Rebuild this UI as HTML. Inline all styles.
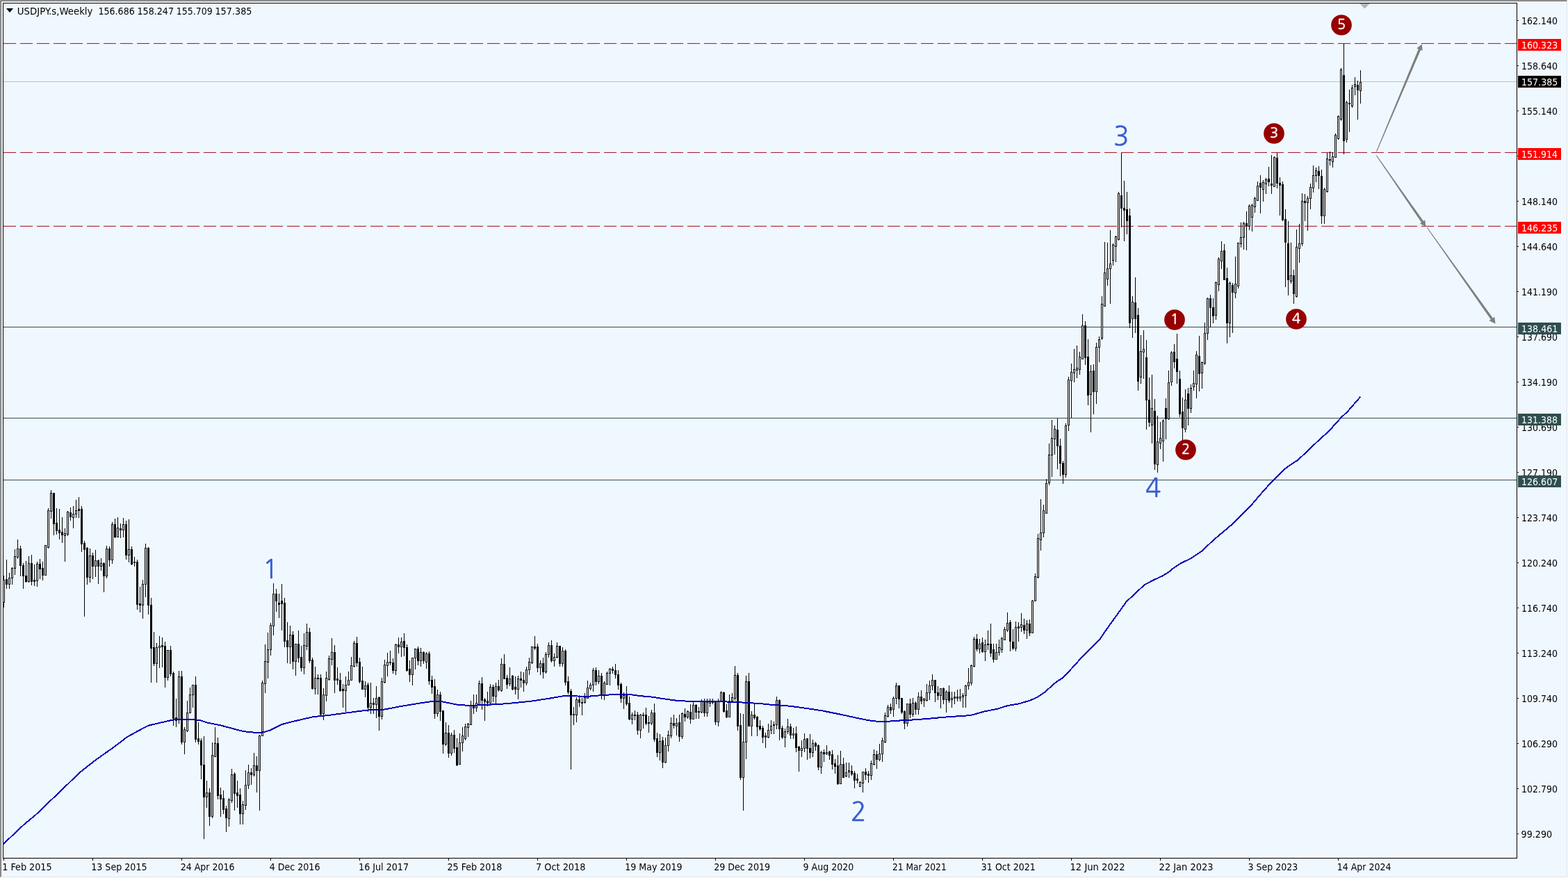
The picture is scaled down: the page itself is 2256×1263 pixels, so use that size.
<!DOCTYPE html>
<html><head><meta charset="utf-8"><title>USDJPY.s,Weekly</title>
<style>html,body{margin:0;padding:0;background:#F0F8FF;width:2256px;height:1263px;overflow:hidden}</style>
</head><body>
<svg width="2256" height="1263" viewBox="0 0 2256 1263" font-family="'DejaVu Sans Condensed','DejaVu Sans','Liberation Sans',sans-serif" font-size="13.5" style="display:block">
<rect width="2256" height="1263" fill="#F0F8FF"/>
<rect x="0" y="0" width="2255" height="1" fill="#A0A0A0"/>
<rect x="0" y="0" width="1" height="1262" fill="#A0A0A0"/>
<rect x="1" y="1" width="2253" height="1" fill="#696969"/>
<rect x="1" y="1" width="1" height="1260" fill="#696969"/>
<rect x="2" y="2" width="2252" height="1" fill="#FFFFFF"/>
<rect x="2" y="2" width="1" height="1259" fill="#FFFFFF"/>
<rect x="1" y="1261" width="2254" height="1" fill="#E3E3E3"/>
<rect x="2254" y="1" width="1" height="1261" fill="#E3E3E3"/>
<rect x="0" y="1262" width="2256" height="1" fill="#FFFFFF"/>
<rect x="2255" y="0" width="1" height="1263" fill="#FFFFFF"/>
<g shape-rendering="crispEdges">
<rect x="5" y="63" width="2177" height="1" fill="#F6EAF2"/><line x1="5" y1="63.5" x2="2182" y2="63.5" stroke="#FADAE4" stroke-width="1" stroke-dasharray="18 6"/><line x1="5" y1="62.5" x2="2182" y2="62.5" stroke="#A82232" stroke-width="1" stroke-dasharray="18 6"/><rect x="5" y="218" width="2177" height="1" fill="#F6EAF2"/><line x1="5" y1="218.5" x2="2182" y2="218.5" stroke="#FADAE4" stroke-width="1" stroke-dasharray="18 6"/><line x1="5" y1="219.5" x2="2182" y2="219.5" stroke="#A82232" stroke-width="1" stroke-dasharray="18 6"/><rect x="5" y="324" width="2177" height="1" fill="#F6EAF2"/><line x1="5" y1="324.5" x2="2182" y2="324.5" stroke="#FADAE4" stroke-width="1" stroke-dasharray="18 6"/><line x1="5" y1="325.5" x2="2182" y2="325.5" stroke="#A82232" stroke-width="1" stroke-dasharray="18 6"/><rect x="5" y="470" width="2177" height="1" fill="#2F4F4F"/><rect x="5" y="601" width="2177" height="1" fill="#2F4F4F"/><rect x="5" y="690" width="2177" height="1" fill="#2F4F4F"/><rect x="5" y="117" width="2177" height="1" fill="#B8C0C8"/>
</g>
<g shape-rendering="crispEdges"><path d="M5 828h1v46h-1zM4 834h3v33h-3zM9 805h1v42h-1zM8 833h3v8h-3zM13 824h1v23h-1zM12 831h3v10h-3zM17 816h1v25h-1zM16 817h3v15h-3zM21 790h1v37h-1zM20 800h3v18h-3zM25 776h1v28h-1zM24 789h3v13h-3zM29 785h1v44h-1zM28 789h3v25h-3zM33 810h1v37h-1zM32 813h3v16h-3zM37 807h1v31h-1zM36 828h3v9h-3zM41 800h1v38h-1zM40 810h3v27h-3zM45 798h1v44h-1zM44 810h3v27h-3zM49 812h1v31h-1zM48 834h3v3h-3zM53 808h1v36h-1zM52 811h3v25h-3zM57 804h1v29h-1zM56 811h3v8h-3zM61 808h1v27h-1zM60 817h3v11h-3zM65 784h1v44h-1zM64 784h3v44h-3zM69 731h1v58h-1zM68 734h3v54h-3zM73 705h1v41h-1zM72 709h3v27h-3zM77 709h1v61h-1zM76 709h3v45h-3zM81 731h1v38h-1zM80 752h3v12h-3zM85 732h1v44h-1zM84 762h3v5h-3zM89 744h1v37h-1zM88 765h3v5h-3zM93 760h1v48h-1zM92 767h3v4h-3zM97 735h1v36h-1zM96 736h3v33h-3zM101 730h1v19h-1zM100 737h3v7h-3zM105 728h1v32h-1zM104 739h3v6h-3zM109 719h1v26h-1zM108 734h3v6h-3zM113 715h1v30h-1zM112 732h3v3h-3zM117 728h1v66h-1zM116 732h3v51h-3zM121 778h1v109h-1zM120 781h3v10h-3zM125 787h1v54h-1zM124 788h3v43h-3zM129 789h1v49h-1zM128 799h3v32h-3zM133 795h1v38h-1zM132 799h3v16h-3zM137 791h1v39h-1zM136 806h3v9h-3zM141 805h1v35h-1zM140 806h3v9h-3zM145 803h1v18h-1zM144 810h3v5h-3zM149 809h1v43h-1zM148 810h3v19h-3zM153 785h1v47h-1zM152 789h3v40h-3zM157 786h1v29h-1zM156 789h3v17h-3zM161 751h1v60h-1zM160 754h3v52h-3zM165 746h1v28h-1zM164 754h3v19h-3zM169 744h1v29h-1zM168 759h3v14h-3zM173 753h1v21h-1zM172 760h3v3h-3zM177 745h1v28h-1zM176 754h3v9h-3zM181 749h1v56h-1zM180 754h3v45h-3zM185 747h1v62h-1zM184 790h3v9h-3zM189 786h1v27h-1zM188 790h3v22h-3zM193 801h1v14h-1zM192 808h3v2h-3zM197 805h1v72h-1zM196 808h3v62h-3zM201 844h1v37h-1zM200 868h3v3h-3zM205 834h1v56h-1zM204 840h3v31h-3zM209 782h1v77h-1zM208 788h3v53h-3zM213 787h1v97h-1zM212 788h3v83h-3zM217 860h1v122h-1zM216 870h3v63h-3zM221 909h1v49h-1zM220 931h3v24h-3zM225 925h1v57h-1zM224 931h3v24h-3zM229 915h1v46h-1zM228 929h3v3h-3zM233 917h1v43h-1zM232 928h3v3h-3zM237 923h1v66h-1zM236 929h3v46h-3zM241 935h1v44h-1zM240 935h3v40h-3zM245 929h1v44h-1zM244 935h3v35h-3zM249 966h1v78h-1zM248 968h3v66h-3zM253 1005h1v41h-1zM252 1032h3v5h-3zM257 965h1v76h-1zM256 973h3v63h-3zM261 965h1v106h-1zM260 973h3v95h-3zM265 1046h1v39h-1zM264 1049h3v19h-3zM269 1008h1v45h-1zM268 1025h3v27h-3zM273 989h1v37h-1zM272 999h3v27h-3zM277 985h1v33h-1zM276 985h3v15h-3zM281 973h1v95h-1zM280 985h3v79h-3zM285 1039h1v32h-1zM284 1062h3v5h-3zM289 1062h1v59h-1zM288 1065h3v36h-3zM293 1059h1v148h-1zM292 1100h3v47h-3zM297 1123h1v39h-1zM296 1140h3v7h-3zM301 1134h1v54h-1zM300 1140h3v35h-3zM305 1068h1v109h-1zM304 1086h3v89h-3zM309 1046h1v43h-1zM308 1069h3v20h-3zM313 1061h1v89h-1zM312 1069h3v76h-3zM317 1133h1v42h-1zM316 1143h3v7h-3zM321 1137h1v34h-1zM320 1148h3v17h-3zM325 1159h1v38h-1zM324 1163h3v14h-3zM329 1148h1v41h-1zM328 1150h3v28h-3zM333 1106h1v49h-1zM332 1114h3v38h-3zM337 1111h1v55h-1zM336 1113h3v29h-3zM341 1123h1v39h-1zM340 1140h3v5h-3zM345 1134h1v52h-1zM344 1143h3v28h-3zM349 1152h1v34h-1zM348 1157h3v14h-3zM353 1108h1v57h-1zM352 1129h3v30h-3zM357 1100h1v35h-1zM356 1111h3v19h-3zM361 1105h1v24h-1zM360 1111h3v4h-3zM365 1083h1v34h-1zM364 1101h3v14h-3zM369 1088h1v52h-1zM368 1101h3v8h-3zM373 1057h1v109h-1zM372 1058h3v51h-3zM377 979h1v80h-1zM376 982h3v77h-3zM381 927h1v70h-1zM380 951h3v33h-3zM385 910h1v66h-1zM384 934h3v19h-3zM389 896h1v47h-1zM388 899h3v36h-3zM393 839h1v75h-1zM392 854h3v47h-3zM397 847h1v33h-1zM396 854h3v11h-3zM401 854h1v35h-1zM400 867h3v3h-3zM405 840h1v67h-1zM404 864h3v5h-3zM409 860h1v71h-1zM408 867h3v56h-3zM413 895h1v59h-1zM412 921h3v10h-3zM417 900h1v55h-1zM416 913h3v18h-3zM421 908h1v55h-1zM420 913h3v39h-3zM425 926h1v46h-1zM424 926h3v26h-3zM429 907h1v46h-1zM428 926h3v21h-3zM433 929h1v37h-1zM432 945h3v16h-3zM437 911h1v59h-1zM436 928h3v33h-3zM441 897h1v38h-1zM440 909h3v21h-3zM445 903h1v51h-1zM444 909h3v42h-3zM449 946h1v46h-1zM448 949h3v42h-3zM453 959h1v40h-1zM452 975h3v16h-3zM457 970h1v29h-1zM456 975h3v2h-3zM461 970h1v59h-1zM460 975h3v53h-3zM465 990h1v46h-1zM464 999h3v28h-3zM469 966h1v43h-1zM468 975h3v26h-3zM473 943h1v36h-1zM472 947h3v31h-3zM477 918h1v39h-1zM476 938h3v11h-3zM481 928h1v69h-1zM480 938h3v41h-3zM485 960h1v25h-1zM484 976h3v3h-3zM489 968h1v27h-1zM488 978h3v16h-3zM493 984h1v34h-1zM492 991h3v3h-3zM497 973h1v51h-1zM496 985h3v9h-3zM501 966h1v20h-1zM500 978h3v8h-3zM505 945h1v34h-1zM504 957h3v22h-3zM509 922h1v38h-1zM508 925h3v34h-3zM513 916h1v43h-1zM512 925h3v29h-3zM517 946h1v37h-1zM516 952h3v29h-3zM521 959h1v33h-1zM520 979h3v13h-3zM525 980h1v23h-1zM524 986h3v6h-3zM529 982h1v42h-1zM528 985h3v33h-3zM533 982h1v45h-1zM532 1011h3v7h-3zM537 1004h1v23h-1zM536 1011h3v3h-3zM541 987h1v46h-1zM540 1004h3v10h-3zM545 1002h1v49h-1zM544 1003h3v28h-3zM549 975h1v60h-1zM548 980h3v51h-3zM553 949h1v34h-1zM552 956h3v26h-3zM557 939h1v34h-1zM556 952h3v6h-3zM561 936h1v21h-1zM560 952h3v2h-3zM565 947h1v22h-1zM564 953h3v12h-3zM569 926h1v45h-1zM568 927h3v38h-3zM573 917h1v23h-1zM572 927h3v4h-3zM577 917h1v28h-1zM576 923h3v8h-3zM581 911h1v33h-1zM580 922h3v10h-3zM585 927h1v39h-1zM584 931h3v34h-3zM589 950h1v31h-1zM588 962h3v9h-3zM593 946h1v40h-1zM592 946h3v25h-3zM597 933h1v30h-1zM596 933h3v14h-3zM601 930h1v27h-1zM600 933h3v18h-3zM605 932h1v27h-1zM604 938h3v13h-3zM609 937h1v18h-1zM608 938h3v13h-3zM613 938h1v24h-1zM612 940h3v13h-3zM617 937h1v48h-1zM616 940h3v40h-3zM621 972h1v26h-1zM620 978h3v11h-3zM625 977h1v57h-1zM624 987h3v40h-3zM629 992h1v39h-1zM628 999h3v28h-3zM633 995h1v42h-1zM632 999h3v25h-3zM637 1022h1v62h-1zM636 1022h3v49h-3zM641 1039h1v34h-1zM640 1054h3v17h-3zM645 1043h1v47h-1zM644 1054h3v30h-3zM649 1054h1v33h-1zM648 1057h3v27h-3zM653 1050h1v33h-1zM652 1057h3v20h-3zM657 1062h1v40h-1zM656 1075h3v26h-3zM661 1055h1v45h-1zM660 1068h3v32h-3zM665 1046h1v35h-1zM664 1058h3v11h-3zM669 1041h1v24h-1zM668 1045h3v18h-3zM673 1040h1v20h-1zM672 1041h3v6h-3zM677 1008h1v35h-1zM676 1015h3v28h-3zM681 999h1v28h-1zM680 1015h3v4h-3zM685 999h1v25h-1zM684 1011h3v8h-3zM689 979h1v36h-1zM688 983h3v31h-3zM693 974h1v47h-1zM692 983h3v25h-3zM697 1004h1v33h-1zM696 1006h3v4h-3zM701 995h1v21h-1zM700 1008h3v4h-3zM705 984h1v29h-1zM704 988h3v24h-3zM709 985h1v25h-1zM708 988h3v14h-3zM713 982h1v31h-1zM712 987h3v15h-3zM717 978h1v17h-1zM716 987h3v6h-3zM721 947h1v48h-1zM720 955h3v39h-3zM725 941h1v36h-1zM724 955h3v22h-3zM729 971h1v20h-1zM728 975h3v10h-3zM733 960h1v27h-1zM732 976h3v8h-3zM737 971h1v22h-1zM736 972h3v20h-3zM741 973h1v26h-1zM740 988h3v4h-3zM745 972h1v34h-1zM744 976h3v16h-3zM749 966h1v23h-1zM748 976h3v3h-3zM753 967h1v28h-1zM752 978h3v5h-3zM757 959h1v27h-1zM756 963h3v20h-3zM761 946h1v25h-1zM760 952h3v12h-3zM765 930h1v25h-1zM764 930h3v24h-3zM769 915h1v20h-1zM768 930h3v3h-3zM773 926h1v41h-1zM772 930h3v31h-3zM777 950h1v21h-1zM776 954h3v7h-3zM781 946h1v30h-1zM780 954h3v13h-3zM785 938h1v31h-1zM784 941h3v26h-3zM789 924h1v22h-1zM788 928h3v14h-3zM793 921h1v32h-1zM792 928h3v23h-3zM797 940h1v19h-1zM796 945h3v6h-3zM801 924h1v23h-1zM800 929h3v17h-3zM805 929h1v30h-1zM804 929h3v26h-3zM809 931h1v28h-1zM808 936h3v19h-3zM813 934h1v52h-1zM812 936h3v46h-3zM817 973h1v26h-1zM816 980h3v16h-3zM821 991h1v116h-1zM820 994h3v35h-3zM825 1017h1v26h-1zM824 1027h3v2h-3zM829 1003h1v36h-1zM828 1006h3v23h-3zM833 1000h1v17h-1zM832 1006h3v5h-3zM837 1004h1v25h-1zM836 1010h3v2h-3zM841 997h1v15h-1zM840 1003h3v8h-3zM845 979h1v26h-1zM844 989h3v16h-3zM849 982h1v11h-1zM848 985h3v6h-3zM853 961h1v34h-1zM852 964h3v22h-3zM857 960h1v26h-1zM856 964h3v17h-3zM861 964h1v20h-1zM860 972h3v9h-3zM865 968h1v38h-1zM864 972h3v29h-3zM869 980h1v27h-1zM868 982h3v19h-3zM873 966h1v19h-1zM872 968h3v17h-3zM877 961h1v25h-1zM876 962h3v7h-3zM881 959h1v10h-1zM880 962h3v3h-3zM885 955h1v21h-1zM884 964h3v7h-3zM889 964h1v28h-1zM888 970h3v16h-3zM893 982h1v29h-1zM892 984h3v21h-3zM897 996h1v24h-1zM896 1000h3v5h-3zM901 987h1v28h-1zM900 999h3v14h-3zM905 1002h1v34h-1zM904 1011h3v24h-3zM909 1025h1v17h-1zM908 1028h3v7h-3zM913 1022h1v14h-1zM912 1028h3v2h-3zM917 1024h1v33h-1zM916 1028h3v23h-3zM921 1027h1v35h-1zM920 1028h3v23h-3zM925 1025h1v23h-1zM924 1028h3v2h-3zM929 1018h1v25h-1zM928 1028h3v13h-3zM933 1030h1v24h-1zM932 1039h3v2h-3zM937 1021h1v22h-1zM936 1025h3v16h-3zM941 1012h1v55h-1zM940 1025h3v39h-3zM945 1054h1v35h-1zM944 1062h3v21h-3zM949 1056h1v38h-1zM948 1066h3v17h-3zM953 1060h1v45h-1zM952 1065h3v32h-3zM957 1061h1v37h-1zM956 1072h3v25h-3zM961 1051h1v30h-1zM960 1057h3v16h-3zM965 1032h1v30h-1zM964 1040h3v19h-3zM969 1028h1v20h-1zM968 1040h3v4h-3zM973 1033h1v25h-1zM972 1040h3v5h-3zM977 1028h1v39h-1zM976 1039h3v21h-3zM981 1025h1v38h-1zM980 1026h3v34h-3zM985 1019h1v19h-1zM984 1027h3v5h-3zM989 1022h1v12h-1zM988 1023h3v9h-3zM993 1013h1v28h-1zM992 1024h3v11h-3zM997 1010h1v25h-1zM996 1014h3v21h-3zM1001 1013h1v21h-1zM1000 1014h3v11h-3zM1005 1017h1v17h-1zM1004 1023h3v2h-3zM1009 1006h1v20h-1zM1008 1009h3v16h-3zM1013 1005h1v26h-1zM1012 1009h3v17h-3zM1017 1005h1v26h-1zM1016 1010h3v16h-3zM1021 1005h1v12h-1zM1020 1009h3v3h-3zM1025 1005h1v8h-1zM1024 1009h3v2h-3zM1029 1009h1v34h-1zM1028 1010h3v29h-3zM1033 1005h1v40h-1zM1032 1009h3v30h-3zM1037 994h1v16h-1zM1036 996h3v14h-3zM1041 995h1v30h-1zM1040 996h3v28h-3zM1045 1013h1v20h-1zM1044 1022h3v10h-3zM1049 999h1v33h-1zM1048 1008h3v24h-3zM1053 997h1v12h-1zM1052 1003h3v6h-3zM1057 958h1v50h-1zM1056 971h3v34h-3zM1061 968h1v83h-1zM1060 971h3v74h-3zM1065 1026h1v96h-1zM1064 1043h3v76h-3zM1069 1027h1v139h-1zM1068 1067h3v52h-3zM1073 972h1v120h-1zM1072 980h3v88h-3zM1077 968h1v77h-1zM1076 980h3v65h-3zM1081 1023h1v36h-1zM1080 1028h3v17h-3zM1085 1012h1v23h-1zM1084 1028h3v5h-3zM1089 1030h1v29h-1zM1088 1031h3v15h-3zM1093 1036h1v15h-1zM1092 1044h3v5h-3zM1097 1044h1v25h-1zM1096 1047h3v14h-3zM1101 1054h1v22h-1zM1100 1058h3v3h-3zM1105 1041h1v21h-1zM1104 1050h3v11h-3zM1109 1036h1v20h-1zM1108 1044h3v7h-3zM1113 1038h1v18h-1zM1112 1042h3v2h-3zM1117 1002h1v47h-1zM1116 1007h3v36h-3zM1121 1006h1v59h-1zM1120 1007h3v42h-3zM1125 1044h1v19h-1zM1124 1047h3v14h-3zM1129 1048h1v27h-1zM1128 1052h3v9h-3zM1133 1034h1v22h-1zM1132 1045h3v8h-3zM1137 1041h1v22h-1zM1136 1045h3v13h-3zM1141 1047h1v16h-1zM1140 1055h3v3h-3zM1145 1045h1v37h-1zM1144 1055h3v21h-3zM1149 1073h1v37h-1zM1148 1074h3v6h-3zM1153 1065h1v24h-1zM1152 1076h3v4h-3zM1157 1055h1v27h-1zM1156 1063h3v14h-3zM1161 1062h1v31h-1zM1160 1062h3v15h-3zM1165 1056h1v35h-1zM1164 1076h3v7h-3zM1169 1064h1v25h-1zM1168 1069h3v14h-3zM1173 1067h1v13h-1zM1172 1069h3v5h-3zM1177 1071h1v37h-1zM1176 1072h3v32h-3zM1181 1080h1v33h-1zM1180 1082h3v22h-3zM1185 1078h1v18h-1zM1184 1082h3v3h-3zM1189 1072h1v14h-1zM1188 1082h3v3h-3zM1193 1080h1v13h-1zM1192 1081h3v6h-3zM1197 1079h1v28h-1zM1196 1085h3v15h-3zM1201 1092h1v21h-1zM1200 1098h3v5h-3zM1205 1086h1v43h-1zM1204 1101h3v27h-3zM1209 1080h1v48h-1zM1208 1099h3v29h-3zM1213 1090h1v29h-1zM1212 1099h3v20h-3zM1217 1097h1v21h-1zM1216 1111h3v6h-3zM1221 1097h1v22h-1zM1220 1108h3v3h-3zM1225 1101h1v15h-1zM1224 1109h3v5h-3zM1229 1109h1v25h-1zM1228 1112h3v11h-3zM1233 1113h1v14h-1zM1232 1120h3v3h-3zM1237 1124h1v8h-1zM1236 1125h3v7h-3zM1241 1110h1v30h-1zM1240 1110h3v17h-3zM1245 1105h1v17h-1zM1244 1110h3v5h-3zM1249 1109h1v17h-1zM1248 1113h3v3h-3zM1253 1094h1v28h-1zM1252 1098h3v18h-3zM1257 1078h1v23h-1zM1256 1085h3v15h-3zM1261 1080h1v26h-1zM1260 1085h3v8h-3zM1265 1070h1v25h-1zM1264 1084h3v9h-3zM1269 1061h1v35h-1zM1268 1065h3v20h-3zM1273 1025h1v44h-1zM1272 1029h3v39h-3zM1277 1014h1v18h-1zM1276 1017h3v14h-3zM1281 1012h1v15h-1zM1280 1017h3v5h-3zM1285 1002h1v29h-1zM1284 1004h3v17h-3zM1289 982h1v31h-1zM1288 986h3v19h-3zM1293 986h1v33h-1zM1292 986h3v20h-3zM1297 1004h1v23h-1zM1296 1004h3v21h-3zM1301 1022h1v27h-1zM1300 1023h3v18h-3zM1305 1012h1v33h-1zM1304 1012h3v29h-3zM1309 1005h1v28h-1zM1308 1012h3v16h-3zM1313 1004h1v27h-1zM1312 1011h3v17h-3zM1317 1009h1v19h-1zM1316 1011h3v10h-3zM1321 996h1v32h-1zM1320 1002h3v19h-3zM1325 993h1v20h-1zM1324 1002h3v7h-3zM1329 1004h1v13h-1zM1328 1005h3v3h-3zM1333 984h1v25h-1zM1332 996h3v12h-3zM1337 979h1v28h-1zM1336 986h3v11h-3zM1341 970h1v23h-1zM1340 978h3v9h-3zM1345 978h1v32h-1zM1344 978h3v19h-3zM1349 987h1v20h-1zM1348 996h3v5h-3zM1353 990h1v29h-1zM1352 990h3v11h-3zM1357 989h1v24h-1zM1356 990h3v17h-3zM1361 993h1v32h-1zM1360 995h3v12h-3zM1365 986h1v25h-1zM1364 995h3v13h-3zM1369 995h1v23h-1zM1368 1004h3v3h-3zM1373 995h1v18h-1zM1372 1002h3v3h-3zM1377 992h1v17h-1zM1376 1002h3v3h-3zM1381 991h1v18h-1zM1380 1002h3v3h-3zM1385 997h1v21h-1zM1384 1000h3v3h-3zM1389 985h1v33h-1zM1388 986h3v15h-3zM1393 961h1v31h-1zM1392 981h3v6h-3zM1397 956h1v30h-1zM1396 957h3v26h-3zM1401 916h1v44h-1zM1400 919h3v40h-3zM1405 912h1v25h-1zM1404 919h3v15h-3zM1409 919h1v21h-1zM1408 926h3v8h-3zM1413 917h1v22h-1zM1412 924h3v14h-3zM1417 920h1v31h-1zM1416 927h3v11h-3zM1421 907h1v28h-1zM1420 926h3v2h-3zM1425 897h1v48h-1zM1424 926h3v14h-3zM1429 926h1v27h-1zM1428 934h3v15h-3zM1433 926h1v23h-1zM1432 938h3v11h-3zM1437 920h1v23h-1zM1436 931h3v8h-3zM1441 916h1v23h-1zM1440 918h3v17h-3zM1445 902h1v19h-1zM1444 905h3v16h-3zM1449 881h1v28h-1zM1448 896h3v11h-3zM1453 892h1v45h-1zM1452 895h3v28h-3zM1457 905h1v30h-1zM1456 923h3v10h-3zM1461 894h1v43h-1zM1460 902h3v31h-3zM1465 895h1v28h-1zM1464 901h3v3h-3zM1469 882h1v27h-1zM1468 898h3v5h-3zM1473 890h1v22h-1zM1472 899h3v8h-3zM1477 892h1v27h-1zM1476 897h3v10h-3zM1481 891h1v24h-1zM1480 897h3v14h-3zM1485 863h1v48h-1zM1484 864h3v47h-3zM1489 825h1v40h-1zM1488 829h3v36h-3zM1493 768h1v64h-1zM1492 774h3v57h-3zM1497 718h1v74h-1zM1496 766h3v11h-3zM1501 726h1v47h-1zM1500 734h3v33h-3zM1505 689h1v50h-1zM1504 695h3v44h-3zM1509 638h1v60h-1zM1508 654h3v41h-3zM1513 604h1v82h-1zM1512 630h3v25h-3zM1517 612h1v42h-1zM1516 617h3v15h-3zM1521 602h1v73h-1zM1520 618h3v24h-3zM1525 631h1v54h-1zM1524 641h3v26h-3zM1529 663h1v33h-1zM1528 666h3v17h-3zM1533 609h1v78h-1zM1532 612h3v71h-3zM1537 542h1v78h-1zM1536 546h3v66h-3zM1541 523h1v78h-1zM1540 535h3v13h-3zM1545 502h1v48h-1zM1544 531h3v6h-3zM1549 497h1v47h-1zM1548 529h3v4h-3zM1553 506h1v33h-1zM1552 513h3v19h-3zM1557 452h1v65h-1zM1556 468h3v49h-3zM1561 462h1v63h-1zM1560 468h3v47h-3zM1565 488h1v95h-1zM1564 513h3v56h-3zM1569 525h1v97h-1zM1568 534h3v34h-3zM1573 524h1v72h-1zM1572 533h3v31h-3zM1577 493h1v88h-1zM1576 499h3v65h-3zM1581 484h1v37h-1zM1580 488h3v12h-3zM1585 426h1v63h-1zM1584 437h3v50h-3zM1589 348h1v93h-1zM1588 392h3v49h-3zM1593 349h1v62h-1zM1592 386h3v16h-3zM1597 331h1v106h-1zM1596 379h3v8h-3zM1601 350h1v32h-1zM1600 352h3v23h-3zM1605 339h1v38h-1zM1604 340h3v15h-3zM1609 276h1v70h-1zM1608 278h3v67h-3zM1613 220h1v107h-1zM1612 281h3v19h-3zM1617 260h1v87h-1zM1616 299h3v4h-3zM1621 276h1v61h-1zM1620 301h3v17h-3zM1625 300h1v172h-1zM1624 310h3v155h-3zM1629 426h1v60h-1zM1628 434h3v25h-3zM1633 399h1v80h-1zM1632 435h3v24h-3zM1637 443h1v119h-1zM1636 453h3v96h-3zM1641 482h1v70h-1zM1640 505h3v38h-3zM1645 475h1v70h-1zM1644 502h3v5h-3zM1649 489h1v129h-1zM1648 514h3v62h-3zM1653 543h1v71h-1zM1652 575h3v33h-3zM1657 539h1v99h-1zM1656 587h3v25h-3zM1661 574h1v102h-1zM1660 591h3v77h-3zM1665 598h1v82h-1zM1664 635h3v34h-3zM1669 607h1v39h-1zM1668 630h3v8h-3zM1673 603h1v61h-1zM1672 605h3v30h-3zM1677 573h1v59h-1zM1676 587h3v16h-3zM1681 533h1v71h-1zM1680 550h3v53h-3zM1685 505h1v50h-1zM1684 507h3v43h-3zM1689 495h1v35h-1zM1688 506h3v15h-3zM1693 480h1v72h-1zM1692 516h3v19h-3zM1697 533h1v67h-1zM1696 545h3v51h-3zM1701 572h1v61h-1zM1700 592h3v24h-3zM1705 560h1v62h-1zM1704 575h3v43h-3zM1709 558h1v54h-1zM1708 566h3v22h-3zM1713 553h1v41h-1zM1712 558h3v30h-3zM1717 533h1v29h-1zM1716 551h3v6h-3zM1721 505h1v68h-1zM1720 510h3v43h-3zM1725 483h1v80h-1zM1724 512h3v26h-3zM1729 520h1v39h-1zM1728 521h3v16h-3zM1733 464h1v61h-1zM1732 479h3v44h-3zM1737 428h1v61h-1zM1736 429h3v51h-3zM1741 424h1v47h-1zM1740 429h3v14h-3zM1745 429h1v36h-1zM1744 442h3v13h-3zM1749 405h1v55h-1zM1748 406h3v48h-3zM1753 370h1v49h-1zM1752 372h3v38h-3zM1757 347h1v40h-1zM1756 361h3v15h-3zM1761 351h1v52h-1zM1760 360h3v43h-3zM1765 385h1v109h-1zM1764 400h3v65h-3zM1769 405h1v80h-1zM1768 407h3v58h-3zM1773 407h1v72h-1zM1772 410h3v11h-3zM1777 369h1v60h-1zM1776 408h3v14h-3zM1781 349h1v66h-1zM1780 349h3v63h-3zM1785 320h1v36h-1zM1784 341h3v10h-3zM1789 319h1v40h-1zM1788 321h3v21h-3zM1793 304h1v56h-1zM1792 321h3v4h-3zM1797 294h1v37h-1zM1796 296h3v30h-3zM1801 293h1v40h-1zM1800 295h3v18h-3zM1805 283h1v23h-1zM1804 285h3v13h-3zM1809 261h1v28h-1zM1808 267h3v22h-3zM1813 252h1v55h-1zM1812 263h3v7h-3zM1817 259h1v31h-1zM1816 262h3v11h-3zM1821 256h1v23h-1zM1820 258h3v7h-3zM1825 240h1v28h-1zM1824 257h3v5h-3zM1829 223h1v56h-1zM1828 264h3v3h-3zM1833 225h1v44h-1zM1832 226h3v43h-3zM1837 220h1v51h-1zM1836 227h3v37h-3zM1841 255h1v55h-1zM1840 263h3v4h-3zM1845 261h1v57h-1zM1844 265h3v52h-3zM1849 301h1v112h-1zM1848 315h3v34h-3zM1853 318h1v107h-1zM1852 350h3v53h-3zM1857 349h1v59h-1zM1856 396h3v9h-3zM1861 388h1v49h-1zM1860 396h3v27h-3zM1865 330h1v98h-1zM1864 355h3v72h-3zM1869 322h1v56h-1zM1868 350h3v8h-3zM1873 278h1v76h-1zM1872 289h3v62h-3zM1877 279h1v39h-1zM1876 289h3v3h-3zM1881 282h1v50h-1zM1880 285h3v7h-3zM1885 264h1v37h-1zM1884 269h3v17h-3zM1889 238h1v39h-1zM1888 252h3v19h-3zM1893 241h1v21h-1zM1892 245h3v8h-3zM1897 239h1v33h-1zM1896 246h3v7h-3zM1901 244h1v78h-1zM1900 253h3v58h-3zM1905 270h1v52h-1zM1904 272h3v39h-3zM1909 220h1v57h-1zM1908 228h3v48h-3zM1913 218h1v20h-1zM1912 229h3v2h-3zM1917 219h1v22h-1zM1916 225h3v8h-3zM1921 192h1v35h-1zM1920 194h3v33h-3zM1925 166h1v35h-1zM1924 167h3v33h-3zM1929 98h1v76h-1zM1928 100h3v72h-3zM1933 63h1v159h-1zM1932 108h3v95h-3zM1937 145h1v60h-1zM1936 147h3v54h-3zM1941 129h1v61h-1zM1940 148h3v2h-3zM1945 122h1v33h-1zM1944 126h3v27h-3zM1949 111h1v26h-1zM1948 121h3v4h-3zM1953 116h1v56h-1zM1952 122h3v8h-3zM1957 101h1v48h-1zM1956 118h3v13h-3z" fill="#000"/><path d="M5 835h1v31h-1zM13 832h1v8h-1zM17 818h1v13h-1zM21 801h1v16h-1zM25 790h1v11h-1zM41 811h1v25h-1zM53 812h1v23h-1zM65 785h1v42h-1zM69 735h1v52h-1zM73 710h1v25h-1zM93 768h1v2h-1zM97 737h1v31h-1zM105 740h1v4h-1zM109 735h1v4h-1zM129 800h1v30h-1zM137 807h1v7h-1zM145 811h1v3h-1zM153 790h1v38h-1zM161 755h1v50h-1zM169 760h1v12h-1zM177 755h1v7h-1zM185 791h1v7h-1zM205 841h1v29h-1zM209 789h1v51h-1zM225 932h1v22h-1zM229 930h1v1h-1zM241 936h1v38h-1zM257 974h1v61h-1zM265 1050h1v17h-1zM269 1026h1v25h-1zM273 1000h1v25h-1zM277 986h1v13h-1zM297 1141h1v5h-1zM305 1087h1v87h-1zM309 1070h1v18h-1zM329 1151h1v26h-1zM333 1115h1v36h-1zM349 1158h1v12h-1zM353 1130h1v28h-1zM357 1112h1v17h-1zM365 1102h1v12h-1zM373 1059h1v49h-1zM377 983h1v75h-1zM381 952h1v31h-1zM385 935h1v17h-1zM389 900h1v34h-1zM393 855h1v45h-1zM417 914h1v16h-1zM425 927h1v24h-1zM437 929h1v31h-1zM441 910h1v19h-1zM453 976h1v14h-1zM465 1000h1v26h-1zM469 976h1v24h-1zM473 948h1v29h-1zM477 939h1v9h-1zM497 986h1v7h-1zM501 979h1v6h-1zM505 958h1v20h-1zM509 926h1v32h-1zM525 987h1v4h-1zM533 1012h1v5h-1zM541 1005h1v8h-1zM549 981h1v49h-1zM553 957h1v24h-1zM557 953h1v4h-1zM569 928h1v36h-1zM577 924h1v6h-1zM593 947h1v23h-1zM597 934h1v12h-1zM605 939h1v11h-1zM613 941h1v11h-1zM629 1000h1v26h-1zM641 1055h1v15h-1zM649 1058h1v25h-1zM661 1069h1v30h-1zM665 1059h1v9h-1zM669 1046h1v16h-1zM673 1042h1v4h-1zM677 1016h1v26h-1zM685 1012h1v6h-1zM689 984h1v29h-1zM705 989h1v22h-1zM713 988h1v13h-1zM721 956h1v37h-1zM733 977h1v6h-1zM745 977h1v14h-1zM757 964h1v18h-1zM761 953h1v10h-1zM765 931h1v22h-1zM777 955h1v5h-1zM785 942h1v24h-1zM789 929h1v12h-1zM797 946h1v4h-1zM801 930h1v15h-1zM809 937h1v17h-1zM829 1007h1v21h-1zM841 1004h1v6h-1zM845 990h1v14h-1zM849 986h1v4h-1zM853 965h1v20h-1zM861 973h1v7h-1zM869 983h1v17h-1zM873 969h1v15h-1zM877 963h1v5h-1zM897 1001h1v3h-1zM909 1029h1v5h-1zM921 1029h1v21h-1zM937 1026h1v14h-1zM949 1067h1v15h-1zM957 1073h1v23h-1zM961 1058h1v14h-1zM965 1041h1v17h-1zM973 1041h1v3h-1zM981 1027h1v32h-1zM989 1024h1v7h-1zM997 1015h1v19h-1zM1009 1010h1v14h-1zM1017 1011h1v14h-1zM1021 1010h1v1h-1zM1033 1010h1v28h-1zM1037 997h1v12h-1zM1049 1009h1v22h-1zM1053 1004h1v4h-1zM1057 972h1v32h-1zM1069 1068h1v50h-1zM1073 981h1v86h-1zM1081 1029h1v15h-1zM1105 1051h1v9h-1zM1109 1045h1v5h-1zM1117 1008h1v34h-1zM1129 1053h1v7h-1zM1133 1046h1v6h-1zM1141 1056h1v1h-1zM1153 1077h1v2h-1zM1157 1064h1v12h-1zM1169 1070h1v12h-1zM1181 1083h1v20h-1zM1189 1083h1v1h-1zM1209 1100h1v27h-1zM1217 1112h1v4h-1zM1221 1109h1v1h-1zM1237 1126h1v5h-1zM1241 1111h1v15h-1zM1253 1099h1v16h-1zM1257 1086h1v13h-1zM1265 1085h1v7h-1zM1269 1066h1v18h-1zM1273 1030h1v37h-1zM1277 1018h1v12h-1zM1285 1005h1v15h-1zM1289 987h1v17h-1zM1305 1013h1v27h-1zM1313 1012h1v15h-1zM1321 1003h1v17h-1zM1329 1006h1v1h-1zM1333 997h1v10h-1zM1337 987h1v9h-1zM1341 979h1v7h-1zM1353 991h1v9h-1zM1361 996h1v10h-1zM1369 1005h1v1h-1zM1381 1003h1v1h-1zM1385 1001h1v1h-1zM1389 987h1v13h-1zM1393 982h1v4h-1zM1397 958h1v24h-1zM1401 920h1v38h-1zM1409 927h1v6h-1zM1417 928h1v9h-1zM1433 939h1v9h-1zM1437 932h1v6h-1zM1441 919h1v15h-1zM1445 906h1v14h-1zM1449 897h1v9h-1zM1461 903h1v29h-1zM1469 899h1v3h-1zM1477 898h1v8h-1zM1485 865h1v45h-1zM1489 830h1v34h-1zM1493 775h1v55h-1zM1497 767h1v9h-1zM1501 735h1v31h-1zM1505 696h1v42h-1zM1509 655h1v39h-1zM1513 631h1v23h-1zM1517 618h1v13h-1zM1533 613h1v69h-1zM1537 547h1v64h-1zM1541 536h1v11h-1zM1545 532h1v4h-1zM1549 530h1v2h-1zM1553 514h1v17h-1zM1557 469h1v47h-1zM1569 535h1v32h-1zM1577 500h1v63h-1zM1581 489h1v10h-1zM1585 438h1v48h-1zM1589 393h1v47h-1zM1593 387h1v14h-1zM1597 380h1v6h-1zM1601 353h1v21h-1zM1605 341h1v13h-1zM1609 279h1v65h-1zM1629 435h1v23h-1zM1641 506h1v36h-1zM1645 503h1v3h-1zM1657 588h1v23h-1zM1665 636h1v32h-1zM1669 631h1v6h-1zM1673 606h1v28h-1zM1681 551h1v51h-1zM1685 508h1v41h-1zM1705 576h1v41h-1zM1713 559h1v28h-1zM1717 552h1v4h-1zM1721 511h1v41h-1zM1729 522h1v14h-1zM1733 480h1v42h-1zM1737 430h1v49h-1zM1749 407h1v46h-1zM1753 373h1v36h-1zM1757 362h1v13h-1zM1769 408h1v56h-1zM1777 409h1v12h-1zM1781 350h1v61h-1zM1785 342h1v8h-1zM1789 322h1v19h-1zM1797 297h1v28h-1zM1801 296h1v16h-1zM1805 286h1v11h-1zM1809 268h1v20h-1zM1817 263h1v9h-1zM1821 259h1v5h-1zM1833 227h1v41h-1zM1857 397h1v7h-1zM1865 356h1v70h-1zM1869 351h1v6h-1zM1873 290h1v60h-1zM1881 286h1v5h-1zM1885 270h1v15h-1zM1889 253h1v17h-1zM1893 246h1v6h-1zM1905 273h1v37h-1zM1909 229h1v46h-1zM1917 226h1v6h-1zM1921 195h1v31h-1zM1925 168h1v31h-1zM1929 101h1v70h-1zM1937 148h1v52h-1zM1945 127h1v25h-1zM1949 122h1v2h-1zM1957 119h1v11h-1z" fill="#fff"/></g>
<polyline points="4.7,1214.2 34.4,1186.2 51.2,1172.3 70.7,1153.6 95.0,1130.4 114.5,1111.4 137.8,1093.1 162.0,1076.0 182.5,1060.5 195.5,1053.1 213.2,1043.8 229.0,1040.0 249.5,1035.4 279.3,1035.0 288.6,1036.3 297.9,1039.5 316.5,1043.2 350.0,1052.1 372.4,1054.4 379.8,1053.1 389.1,1050.3 405.9,1041.9 422.3,1037.7 450.3,1031.2 474.5,1028.7 504.3,1024.7 530.3,1021.3 552.7,1020.6 578.7,1015.7 604.8,1011.3 623.4,1008.8 636.5,1009.4 656.9,1013.5 675.6,1015.0 697.9,1013.9 716.5,1013.1 735.1,1011.6 763.1,1008.8 791.0,1004.6 813.3,1000.8 844.2,1002.0 857.2,1000.8 875.9,999.5 890.8,998.6 907.5,999.2 924.3,1001.4 939.2,1002.7 957.8,1005.7 974.5,1007.9 991.3,1008.8 1024.8,1008.8 1043.4,1009.4 1062.0,1010.1 1080.7,1011.3 1099.3,1012.6 1110.4,1013.9 1121.6,1014.4 1136.5,1015.7 1158.9,1018.7 1183.1,1022.4 1211.0,1028.0 1240.0,1034.4 1251.2,1036.4 1262.3,1037.8 1277.2,1037.8 1295.9,1036.4 1314.5,1035.4 1333.1,1034.1 1351.7,1032.3 1370.3,1030.8 1389.0,1029.6 1398.3,1028.5 1416.9,1023.3 1435.5,1019.6 1450.4,1014.9 1467.1,1012.1 1483.9,1006.9 1493.2,1002.5 1502.5,996.3 1511.8,987.9 1519.3,981.4 1528.6,975.3 1540.0,963.7 1555.8,946.2 1582.4,919.6 1594.9,901.3 1608.2,883.0 1620.6,865.6 1634.8,852.3 1646.4,841.5 1658.9,834.8 1673.0,828.2 1681.3,823.2 1688.0,817.4 1699.6,809.9 1712.9,803.6 1729.6,792.4 1746.2,776.6 1763.5,762.1 1775.7,751.6 1791.4,735.9 1803.6,722.9 1811.4,713.6 1819.3,704.6 1832.3,690.3 1847.1,675.8 1855.0,669.7 1867.2,661.9 1879.3,650.6 1899.4,631.4 1911.6,620.6 1919.4,611.9 1929.9,600.4 1939.4,591.4 1947.3,582.3 1957.4,570.8" fill="none" stroke="#0000B4" stroke-width="2" stroke-linejoin="round" shape-rendering="crispEdges"/>
<polygon points="1981.0,218.2 2044.1,72.0 2046.7,73.1 2045.8,63.5 2038.3,69.5 2040.8,70.6 1980.0,217.8" fill="#808080"/><polygon points="1979.9,223.9 2045.1,320.1 2042.9,321.7 2051.4,326.1 2050.3,316.6 2048.0,318.1 1980.7,223.3" fill="#808080"/><polygon points="2052.8,327.6 2144.9,459.5 2142.5,461.2 2151.6,465.8 2150.3,455.7 2147.9,457.4 2053.6,327.0" fill="#808080"/>
<text x="378" y="832" font-family="NanumGothic,'Liberation Sans',sans-serif" font-size="37" fill="#3B5BCF" stroke="#3B5BCF" stroke-width="0.5">1</text><text x="1224" y="1181" font-family="NanumGothic,'Liberation Sans',sans-serif" font-size="37" fill="#3B5BCF" stroke="#3B5BCF" stroke-width="0.5">2</text><text x="1602" y="209" font-family="NanumGothic,'Liberation Sans',sans-serif" font-size="37" fill="#3B5BCF" stroke="#3B5BCF" stroke-width="0.5">3</text><text x="1648" y="715" font-family="NanumGothic,'Liberation Sans',sans-serif" font-size="37" fill="#3B5BCF" stroke="#3B5BCF" stroke-width="0.5">4</text>
<circle cx="1690" cy="460" r="14.85" fill="#960000"/><text x="1690" y="466.2" font-family="NanumGothic,'Liberation Sans',sans-serif" font-size="20" fill="#fff" stroke="#fff" stroke-width="0.5" text-anchor="middle">1</text><circle cx="1706" cy="647" r="14.85" fill="#960000"/><text x="1706" y="653.2" font-family="NanumGothic,'Liberation Sans',sans-serif" font-size="20" fill="#fff" stroke="#fff" stroke-width="0.5" text-anchor="middle">2</text><circle cx="1833" cy="192" r="14.85" fill="#960000"/><text x="1833" y="198.2" font-family="NanumGothic,'Liberation Sans',sans-serif" font-size="20" fill="#fff" stroke="#fff" stroke-width="0.5" text-anchor="middle">3</text><circle cx="1865" cy="459" r="14.85" fill="#960000"/><text x="1865" y="465.2" font-family="NanumGothic,'Liberation Sans',sans-serif" font-size="20" fill="#fff" stroke="#fff" stroke-width="0.5" text-anchor="middle">4</text><circle cx="1930" cy="36" r="14.85" fill="#960000"/><text x="1930" y="42.2" font-family="NanumGothic,'Liberation Sans',sans-serif" font-size="20" fill="#fff" stroke="#fff" stroke-width="0.5" text-anchor="middle">5</text>
<polygon points="1956,5 1971,5 1963.5,12.5" fill="#B4B4B4"/>
<g shape-rendering="crispEdges">
<rect x="4" y="4" width="2179" height="1" fill="#000"/>
<rect x="4" y="4" width="1" height="1231" fill="#000"/>
<rect x="2182" y="4" width="1" height="1231" fill="#000"/>
<rect x="4" y="1234" width="2179" height="1" fill="#000"/>
<rect x="5" y="1235" width="1" height="3" fill="#000"/><rect x="133" y="1235" width="1" height="3" fill="#000"/><rect x="261" y="1235" width="1" height="3" fill="#000"/><rect x="389" y="1235" width="1" height="3" fill="#000"/><rect x="517" y="1235" width="1" height="3" fill="#000"/><rect x="645" y="1235" width="1" height="3" fill="#000"/><rect x="773" y="1235" width="1" height="3" fill="#000"/><rect x="901" y="1235" width="1" height="3" fill="#000"/><rect x="1029" y="1235" width="1" height="3" fill="#000"/><rect x="1157" y="1235" width="1" height="3" fill="#000"/><rect x="1285" y="1235" width="1" height="3" fill="#000"/><rect x="1413" y="1235" width="1" height="3" fill="#000"/><rect x="1541" y="1235" width="1" height="3" fill="#000"/><rect x="1669" y="1235" width="1" height="3" fill="#000"/><rect x="1797" y="1235" width="1" height="3" fill="#000"/><rect x="1925" y="1235" width="1" height="3" fill="#000"/>
<rect x="2183" y="29" width="2" height="1" fill="#000"/><rect x="2183" y="94" width="2" height="1" fill="#000"/><rect x="2183" y="159" width="2" height="1" fill="#000"/><rect x="2183" y="224" width="2" height="1" fill="#000"/><rect x="2183" y="289" width="2" height="1" fill="#000"/><rect x="2183" y="354" width="2" height="1" fill="#000"/><rect x="2183" y="419" width="2" height="1" fill="#000"/><rect x="2183" y="484" width="2" height="1" fill="#000"/><rect x="2183" y="549" width="2" height="1" fill="#000"/><rect x="2183" y="614" width="2" height="1" fill="#000"/><rect x="2183" y="679" width="2" height="1" fill="#000"/><rect x="2183" y="744" width="2" height="1" fill="#000"/><rect x="2183" y="809" width="2" height="1" fill="#000"/><rect x="2183" y="874" width="2" height="1" fill="#000"/><rect x="2183" y="939" width="2" height="1" fill="#000"/><rect x="2183" y="1004" width="2" height="1" fill="#000"/><rect x="2183" y="1069" width="2" height="1" fill="#000"/><rect x="2183" y="1134" width="2" height="1" fill="#000"/><rect x="2183" y="1199" width="2" height="1" fill="#000"/>
</g>
<text x="3.33" y="1252" textLength="71.30" lengthAdjust="spacingAndGlyphs">1 Feb 2015</text><text x="131.24" y="1252" textLength="80.27" lengthAdjust="spacingAndGlyphs">13 Sep 2015</text><text x="259.77" y="1252" textLength="77.63" lengthAdjust="spacingAndGlyphs">24 Apr 2016</text><text x="387.78" y="1252" textLength="72.70" lengthAdjust="spacingAndGlyphs">4 Dec 2016</text><text x="516.04" y="1252" textLength="72.03" lengthAdjust="spacingAndGlyphs">16 Jul 2017</text><text x="643.46" y="1252" textLength="78.98" lengthAdjust="spacingAndGlyphs">25 Feb 2018</text><text x="771.04" y="1252" textLength="71.35" lengthAdjust="spacingAndGlyphs">7 Oct 2018</text><text x="899.25" y="1252" textLength="82.26" lengthAdjust="spacingAndGlyphs">19 May 2019</text><text x="1027.16" y="1252" textLength="80.95" lengthAdjust="spacingAndGlyphs">29 Dec 2019</text><text x="1155.57" y="1252" textLength="72.82" lengthAdjust="spacingAndGlyphs">9 Aug 2020</text><text x="1283.99" y="1252" textLength="77.70" lengthAdjust="spacingAndGlyphs">21 Mar 2021</text><text x="1411.87" y="1252" textLength="77.84" lengthAdjust="spacingAndGlyphs">31 Oct 2021</text><text x="1539.49" y="1252" textLength="79.05" lengthAdjust="spacingAndGlyphs">12 Jun 2022</text><text x="1667.64" y="1252" textLength="77.82" lengthAdjust="spacingAndGlyphs">22 Jan 2023</text><text x="1795.57" y="1252" textLength="71.71" lengthAdjust="spacingAndGlyphs">3 Sep 2023</text><text x="1923.65" y="1252" textLength="77.75" lengthAdjust="spacingAndGlyphs">14 Apr 2024</text>
<text x="2188.95" y="35" textLength="52.09" lengthAdjust="spacingAndGlyphs">162.140</text><text x="2188.95" y="100" textLength="52.09" lengthAdjust="spacingAndGlyphs">158.640</text><text x="2188.95" y="165" textLength="52.09" lengthAdjust="spacingAndGlyphs">155.140</text><text x="2188.95" y="295" textLength="52.09" lengthAdjust="spacingAndGlyphs">148.140</text><text x="2188.95" y="360" textLength="52.09" lengthAdjust="spacingAndGlyphs">144.640</text><text x="2188.95" y="425" textLength="52.09" lengthAdjust="spacingAndGlyphs">141.190</text><text x="2188.95" y="490" textLength="52.09" lengthAdjust="spacingAndGlyphs">137.690</text><text x="2188.95" y="555" textLength="52.09" lengthAdjust="spacingAndGlyphs">134.190</text><text x="2188.95" y="620" textLength="52.09" lengthAdjust="spacingAndGlyphs">130.690</text><text x="2188.95" y="685" textLength="52.09" lengthAdjust="spacingAndGlyphs">127.190</text><text x="2188.95" y="750" textLength="52.09" lengthAdjust="spacingAndGlyphs">123.740</text><text x="2188.95" y="815" textLength="52.09" lengthAdjust="spacingAndGlyphs">120.240</text><text x="2188.95" y="880" textLength="52.09" lengthAdjust="spacingAndGlyphs">116.740</text><text x="2188.95" y="945" textLength="52.09" lengthAdjust="spacingAndGlyphs">113.240</text><text x="2188.95" y="1010" textLength="52.09" lengthAdjust="spacingAndGlyphs">109.740</text><text x="2188.95" y="1075" textLength="52.09" lengthAdjust="spacingAndGlyphs">106.290</text><text x="2188.95" y="1140" textLength="52.09" lengthAdjust="spacingAndGlyphs">102.790</text><text x="2188.56" y="1205" textLength="44.67" lengthAdjust="spacingAndGlyphs">99.290</text>
<rect x="2184" y="56" width="62" height="17" fill="#FF0000"/><text x="2188.95" y="70" textLength="52.31" lengthAdjust="spacingAndGlyphs" fill="#fff">160.323</text><rect x="2184" y="109" width="62" height="17" fill="#000000"/><text x="2188.94" y="123" textLength="52.42" lengthAdjust="spacingAndGlyphs" fill="#fff">157.385</text><rect x="2184" y="213" width="62" height="17" fill="#FF0000"/><text x="2188.95" y="227" textLength="51.98" lengthAdjust="spacingAndGlyphs" fill="#fff">151.914</text><rect x="2184" y="319" width="62" height="17" fill="#FF0000"/><text x="2188.94" y="333" textLength="52.42" lengthAdjust="spacingAndGlyphs" fill="#fff">146.235</text><rect x="2184" y="464" width="62" height="17" fill="#2F4F4F"/><text x="2188.94" y="478" textLength="52.42" lengthAdjust="spacingAndGlyphs" fill="#fff">138.461</text><rect x="2184" y="595" width="62" height="17" fill="#2F4F4F"/><text x="2188.95" y="609" textLength="52.09" lengthAdjust="spacingAndGlyphs" fill="#fff">131.388</text><rect x="2184" y="684" width="62" height="17" fill="#2F4F4F"/><text x="2188.95" y="698" textLength="52.31" lengthAdjust="spacingAndGlyphs" fill="#fff">126.607</text>
<polygon points="9,12 19,12 14,18" fill="#000"/>
<text x="24.89" y="21" textLength="108.59" lengthAdjust="spacingAndGlyphs">USDJPY.s,Weekly</text>
<text x="141.45" y="21" textLength="52.30" lengthAdjust="spacingAndGlyphs">156.686</text>
<text x="197.44" y="21" textLength="52.62" lengthAdjust="spacingAndGlyphs">158.247</text>
<text x="253.85" y="21" textLength="51.99" lengthAdjust="spacingAndGlyphs">155.709</text>
<text x="309.43" y="21" textLength="53.05" lengthAdjust="spacingAndGlyphs">157.385</text>
</svg>
</body></html>
